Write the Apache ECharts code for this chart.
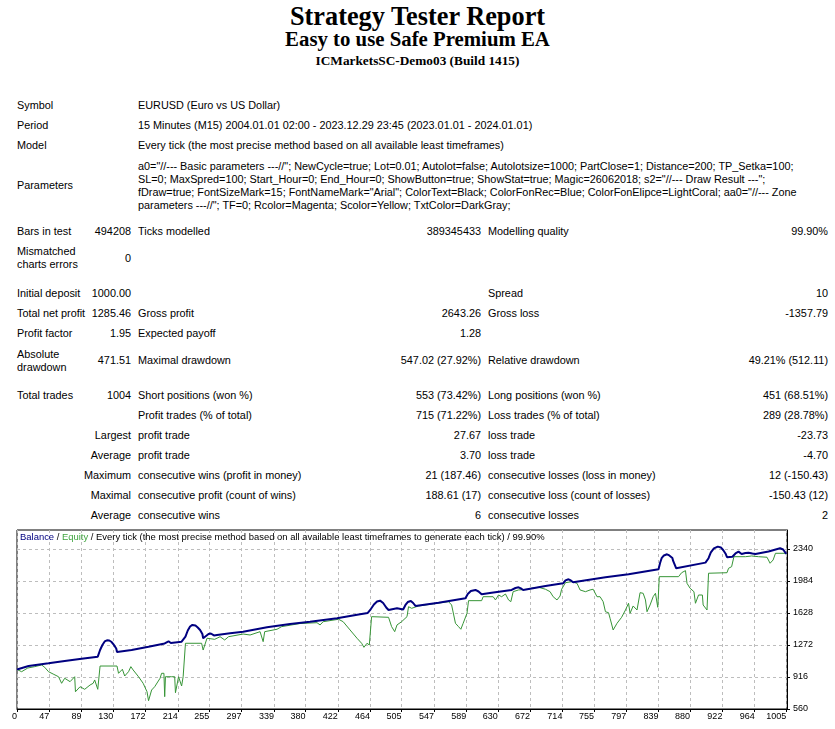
<!DOCTYPE html>
<html>
<head>
<meta charset="utf-8">
<script src="https://cdn.jsdelivr.net/npm/echarts@6/dist/echarts.min.js"></script>
<style>
  html, body { margin:0; padding:0; background:#fff; }
  #page { position:relative; width:835px; height:729px; overflow:hidden; background:#fff; }
  .h { position:absolute; left:0; width:835px; text-align:center; font-family:'Liberation Serif','Times New Roman',serif; font-weight:bold; color:#000; white-space:nowrap; }
  .t { position:absolute; white-space:nowrap; font-family:'Liberation Sans',Arial,sans-serif; font-size:10.85px; line-height:13px; color:#000; }
  #chart { position:absolute; left:0; top:524px; width:835px; height:205px; }
</style>
</head>
<body>
<div id="page">
  <div class="h" style="top:4px;font-size:26.3px;line-height:26px;">Strategy Tester Report</div>
  <div class="h" style="top:29px;font-size:20.8px;line-height:20.5px;">Easy to use Safe Premium EA</div>
  <div class="h" style="top:54px;font-size:13.3px;line-height:13.3px;">ICMarketsSC-Demo03 (Build 1415)</div>

  <div class="t" style="left:17px;top:99px;">Symbol</div>
  <div class="t" style="left:138px;top:99px;">EURUSD (Euro vs US Dollar)</div>
  <div class="t" style="left:17px;top:119px;">Period</div>
  <div class="t" style="left:138px;top:119px;">15 Minutes (M15) 2004.01.01 02:00 - 2023.12.29 23:45 (2023.01.01 - 2024.01.01)</div>
  <div class="t" style="left:17px;top:139px;">Model</div>
  <div class="t" style="left:138px;top:139px;">Every tick (the most precise method based on all available least timeframes)</div>
  <div class="t" style="left:17px;top:179px;">Parameters</div>
  <div class="t" style="left:138px;top:160px;">a0="//--- Basic parameters ---//"; NewCycle=true; Lot=0.01; Autolot=false; Autolotsize=1000; PartClose=1; Distance=200; TP_Setka=100;<br>SL=0; MaxSpred=100; Start_Hour=0; End_Hour=0; ShowButton=true; ShowStat=true; Magic=26062018; s2="//--- Draw Result ---";<br>fDraw=true; FontSizeMark=15; FontNameMark="Arial"; ColorText=Black; ColorFonRec=Blue; ColorFonElipce=LightCoral; aa0="//--- Zone<br>parameters ---//"; TF=0; Rcolor=Magenta; Scolor=Yellow; TxtColor=DarkGray;</div>

  <div class="t" style="left:17px;top:225px;">Bars in test</div>
  <div class="t" style="right:704px;top:225px;">494208</div>
  <div class="t" style="left:138px;top:225px;">Ticks modelled</div>
  <div class="t" style="right:354px;top:225px;">389345433</div>
  <div class="t" style="left:488px;top:225px;">Modelling quality</div>
  <div class="t" style="right:7px;top:225px;">99.90%</div>

  <div class="t" style="left:17px;top:245px;">Mismatched<br>charts errors</div>
  <div class="t" style="right:704px;top:252px;">0</div>

  <div class="t" style="left:17px;top:287px;">Initial deposit</div>
  <div class="t" style="right:704px;top:287px;">1000.00</div>
  <div class="t" style="left:488px;top:287px;">Spread</div>
  <div class="t" style="right:7px;top:287px;">10</div>

  <div class="t" style="left:17px;top:307px;">Total net profit</div>
  <div class="t" style="right:704px;top:307px;">1285.46</div>
  <div class="t" style="left:138px;top:307px;">Gross profit</div>
  <div class="t" style="right:354px;top:307px;">2643.26</div>
  <div class="t" style="left:488px;top:307px;">Gross loss</div>
  <div class="t" style="right:7px;top:307px;">-1357.79</div>

  <div class="t" style="left:17px;top:327px;">Profit factor</div>
  <div class="t" style="right:704px;top:327px;">1.95</div>
  <div class="t" style="left:138px;top:327px;">Expected payoff</div>
  <div class="t" style="right:354px;top:327px;">1.28</div>

  <div class="t" style="left:17px;top:348px;">Absolute<br>drawdown</div>
  <div class="t" style="right:704px;top:354px;">471.51</div>
  <div class="t" style="left:138px;top:354px;">Maximal drawdown</div>
  <div class="t" style="right:354px;top:354px;">547.02 (27.92%)</div>
  <div class="t" style="left:488px;top:354px;">Relative drawdown</div>
  <div class="t" style="right:7px;top:354px;">49.21% (512.11)</div>

  <div class="t" style="left:17px;top:389px;">Total trades</div>
  <div class="t" style="right:704px;top:389px;">1004</div>
  <div class="t" style="left:138px;top:389px;">Short positions (won %)</div>
  <div class="t" style="right:354px;top:389px;">553 (73.42%)</div>
  <div class="t" style="left:488px;top:389px;">Long positions (won %)</div>
  <div class="t" style="right:7px;top:389px;">451 (68.51%)</div>

  <div class="t" style="left:138px;top:409px;">Profit trades (% of total)</div>
  <div class="t" style="right:354px;top:409px;">715 (71.22%)</div>
  <div class="t" style="left:488px;top:409px;">Loss trades (% of total)</div>
  <div class="t" style="right:7px;top:409px;">289 (28.78%)</div>

  <div class="t" style="right:704px;top:429px;">Largest</div>
  <div class="t" style="left:138px;top:429px;">profit trade</div>
  <div class="t" style="right:354px;top:429px;">27.67</div>
  <div class="t" style="left:488px;top:429px;">loss trade</div>
  <div class="t" style="right:7px;top:429px;">-23.73</div>

  <div class="t" style="right:704px;top:449px;">Average</div>
  <div class="t" style="left:138px;top:449px;">profit trade</div>
  <div class="t" style="right:354px;top:449px;">3.70</div>
  <div class="t" style="left:488px;top:449px;">loss trade</div>
  <div class="t" style="right:7px;top:449px;">-4.70</div>

  <div class="t" style="right:704px;top:469px;">Maximum</div>
  <div class="t" style="left:138px;top:469px;">consecutive wins (profit in money)</div>
  <div class="t" style="right:354px;top:469px;">21 (187.46)</div>
  <div class="t" style="left:488px;top:469px;">consecutive losses (loss in money)</div>
  <div class="t" style="right:7px;top:469px;">12 (-150.43)</div>

  <div class="t" style="right:704px;top:489px;">Maximal</div>
  <div class="t" style="left:138px;top:489px;">consecutive profit (count of wins)</div>
  <div class="t" style="right:354px;top:489px;">188.61 (17)</div>
  <div class="t" style="left:488px;top:489px;">consecutive loss (count of losses)</div>
  <div class="t" style="right:7px;top:489px;">-150.43 (12)</div>

  <div class="t" style="right:704px;top:509px;">Average</div>
  <div class="t" style="left:138px;top:509px;">consecutive wins</div>
  <div class="t" style="right:354px;top:509px;">6</div>
  <div class="t" style="left:488px;top:509px;">consecutive losses</div>
  <div class="t" style="right:7px;top:509px;">2</div>

  <div id="chart"></div>
</div>
<script>
// ---- chart data (trade number, account value) ----
const xTickLabels = [0,47,89,130,172,214,255,297,339,380,422,464,505,547,589,630,672,714,755,797,839,880,922,964,1005];
const yTickLabels = [560,916,1272,1628,1984,2340];
const xRange = [5, 1006];
const yRange = [560, 2551];

const balance = [
  [5,1000],[20,1038],[46,1068],[67,1094],[89,1120],[110,1142],
  [113,1216],[116,1272],[119,1311],[122,1324],[125,1322],[128,1305],[131,1272],[134,1233],[135,1194],
  [154,1216],[176,1253],[197,1289],[202,1313],[205,1294],[219,1309],
  [221,1317],[224,1364],[227,1433],[230,1478],[233,1495],[237,1489],[240,1467],[243,1439],[246,1394],[247,1347],
  [249,1361],[254,1394],[257,1400],[261,1378],[265,1383],[282,1402],[299,1420],[330,1469],[360,1506],
  [386,1531],[421,1569],[451,1614],
  [461,1628],[465,1672],[469,1723],[473,1756],[477,1765],[481,1739],[485,1689],[488,1661],[499,1680],
  [507,1667],[510,1717],[513,1750],[517,1762],[520,1739],[523,1706],[553,1743],
  [588,1792],[591,1839],[595,1873],[601,1884],[605,1867],[609,1836],[622,1854],
  [648,1884],[653,1906],[657,1914],[660,1901],[663,1884],[692,1928],
  [715,1958],[718,1990],[722,2003],[725,1990],[728,1970],[770,2025],[800,2059],
  [839,2114],[841,2184],[843,2237],[846,2268],[850,2281],[853,2268],[857,2240],[858,2207],[862,2125],[900,2188],
  [904,2237],[907,2301],[911,2346],[916,2366],[920,2357],[923,2329],[926,2290],[928,2248],
  [935,2254],[939,2290],[943,2310],[947,2284],[952,2296],[956,2299],[961,2290],[965,2284],
  [982,2312],[997,2348],[1001,2334],[1005,2285]
];

const equity = [
  [5,1000],[11,975],[19,1016],[28,1031],[37,1050],[41,1024],[46,975],[52,949],[59,919],[63,846],[67,902],
  [74,864],[80,919],[81,752],[87,808],[93,779],[100,827],[104,846],[106,883],[110,779],[112,779],[113,1038],
  [135,1038],[137,957],[142,1002],[145,927],[150,975],[153,1031],[156,994],[163,919],[169,846],[174,752],
  [176,652],[180,771],[184,808],[191,902],[193,957],[196,957],[197,697],[198,919],[206,919],[210,919],
  [211,741],[213,749],[215,919],[219,816],[221,919],[224,1291],[245,1291],[247,1216],[252,1347],[262,1335],
  [269,1364],[275,1328],[280,1364],[299,1394],[308,1383],[321,1420],[325,1309],[327,1420],[343,1447],
  [349,1476],[373,1511],[395,1520],[399,1495],[403,1531],[423,1558],[429,1531],[438,1439],[447,1347],
  [453,1291],[456,1246],[460,1291],[463,1272],[466,1587],[488,1580],[492,1476],[496,1420],[499,1495],
  [505,1531],[512,1587],[514,1698],[518,1680],[527,1706],[566,1754],[570,1717],[575,1513],[579,1476],
  [582,1447],[585,1513],[590,1625],[592,1765],[609,1765],[611,1809],[624,1809],[627,1773],[631,1828],
  [635,1809],[640,1839],[644,1773],[647,1754],[650,1865],[657,1884],[670,1892],[674,1903],[683,1914],
  [692,1892],[698,1865],[702,1809],[707,1773],[711,1817],[713,1892],[718,1965],[726,1976],[733,1958],
  [737,1884],[744,1865],[750,1884],[754,1892],[759,1809],[763,1809],[767,1754],[770,1642],[774,1631],
  [776,1569],[780,1439],[785,1513],[791,1580],[796,1661],[800,1736],[802,1625],[806,1706],[811,1661],
  [815,1854],[819,1847],[822,1773],[824,1642],[828,1717],[832,1809],[835,1847],[838,1691],[840,2032],
  [865,2032],[869,2076],[874,2099],[876,1958],[880,1903],[885,1865],[887,1736],[891,1828],[896,1828],
  [897,1717],[902,1661],[904,2070],[906,2076],[928,2076],[930,2125],[934,2143],[937,2254],[952,2254],
  [960,2262],[969,2254],[980,2248],[984,2181],[988,2218],[991,2292],[1004,2292],[1005,2285]
];

const balanceColor = '#000080';
const equityColor = '#379537';
const axisFont = "'Liberation Sans', Arial, sans-serif";

const chart = echarts.init(document.getElementById('chart'), null, {renderer: 'canvas'});
chart.setOption({
  animation: false,
  backgroundColor: 'transparent',
  title: {
    text: '{b|Balance} / {e|Equity} / Every tick (the most precise method based on all available least timeframes to generate each tick) / 99.90%',
    left: 20, top: 9, padding: 0,
    textStyle: {
      fontSize: 9.45, fontWeight: 'normal', color: '#000', fontFamily: axisFont,
      rich: {
        b: {color: balanceColor, fontSize: 9.45, fontFamily: axisFont},
        e: {color: '#3fa43f', fontSize: 9.45, fontFamily: axisFont}
      }
    }
  },
  grid: {
    left: 17, right: 48, top: 6, bottom: 20,
    show: true, borderColor: '#000', borderWidth: 1, backgroundColor: '#fff',
    containLabel: false
  },
  xAxis: {
    type: 'value', min: xRange[0], max: xRange[1],
    axisLine: {show: true, onZero: false, lineStyle: {color: '#000', width: 1}},
    axisTick: {show: true, length: 3, lineStyle: {color: '#000'},
      customValues: xTickLabels.map(v => Math.max(v, xRange[0]))},
    axisLabel: {
      show: true, color: '#000', fontSize: 9, fontFamily: axisFont, margin: 3, align: 'right',
      customValues: xTickLabels.map(v => Math.max(v, xRange[0])),
      formatter: v => (v <= xRange[0] ? '0' : String(v))
    },
    splitLine: {show: true, lineStyle: {color: '#bdbdbd', type: [3, 3], width: 1}}
  },
  yAxis: {
    type: 'value', position: 'right', min: yRange[0], max: yRange[1],
    axisLine: {show: true, lineStyle: {color: '#000', width: 1}},
    axisTick: {show: true, length: 3, lineStyle: {color: '#000'}, customValues: yTickLabels},
    axisLabel: {show: true, color: '#000', fontSize: 9, fontFamily: axisFont, margin: 6,
      customValues: yTickLabels, formatter: v => String(v)},
    splitLine: {show: true, lineStyle: {color: '#bdbdbd', type: [3, 3], width: 1}}
  },
  series: [
    {name: 'Equity', type: 'line', data: equity, showSymbol: false, symbol: 'none',
      lineStyle: {color: equityColor, width: 1}, itemStyle: {color: equityColor}, z: 2},
    {name: 'Balance', type: 'line', data: balance, showSymbol: false, symbol: 'none',
      lineStyle: {color: balanceColor, width: 2}, itemStyle: {color: balanceColor}, z: 3}
  ]
});
</script>
</body>
</html>
